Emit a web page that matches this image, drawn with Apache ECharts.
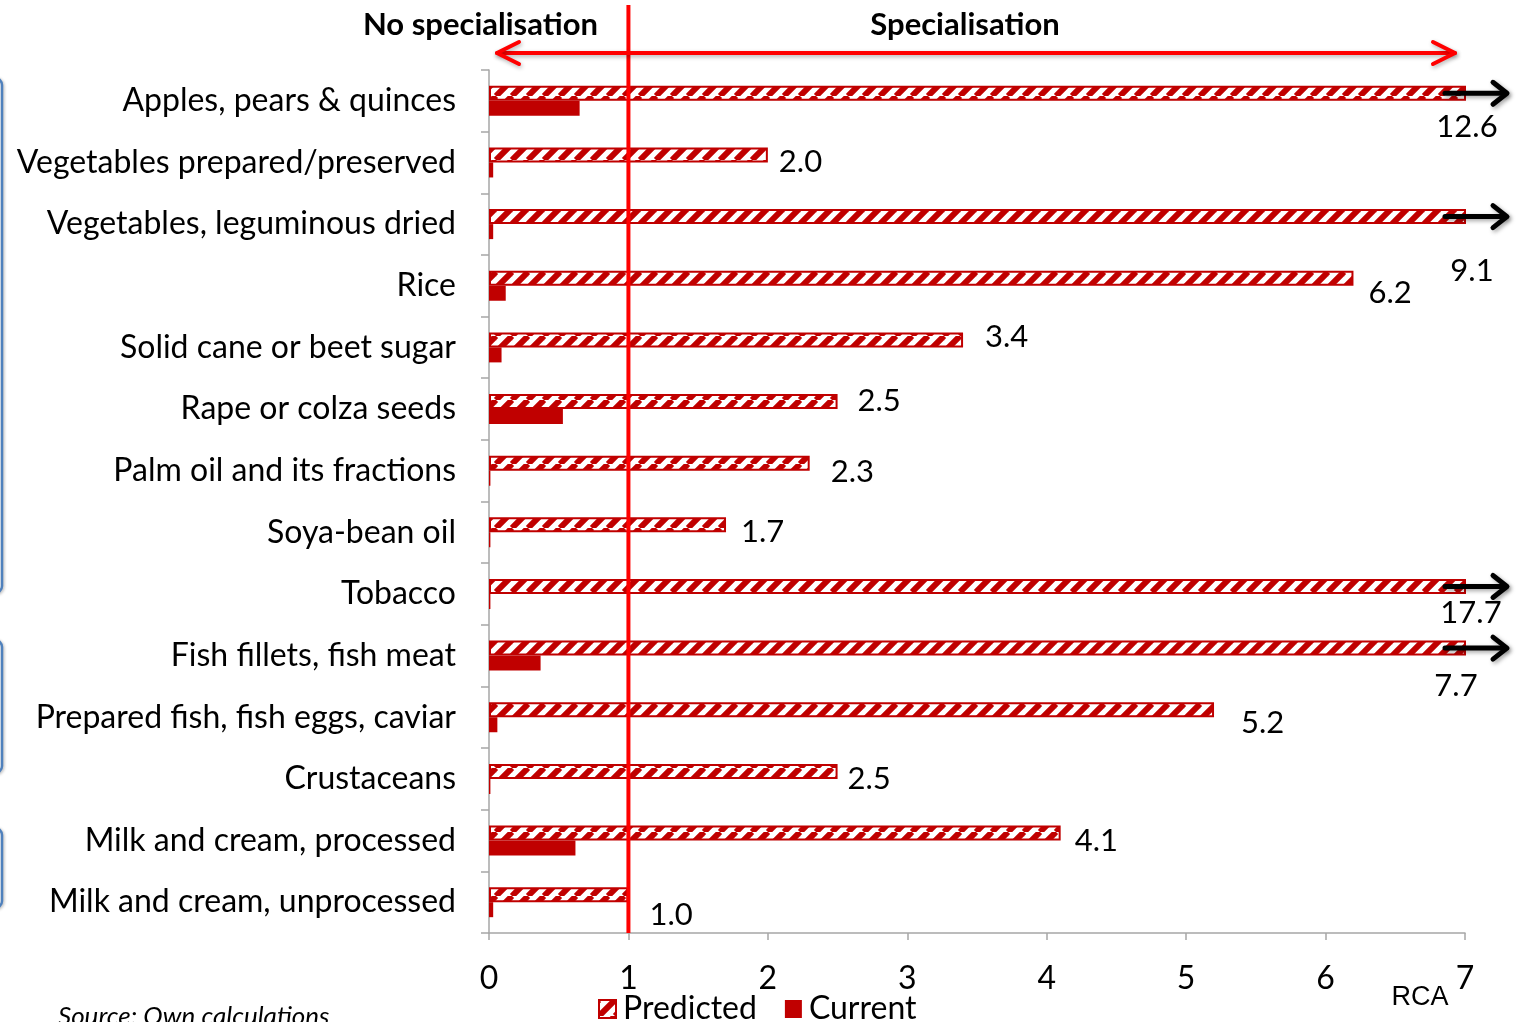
<!DOCTYPE html>
<html>
<head>
<meta charset="utf-8">
<title>RCA by product</title>
<script src="https://cdn.jsdelivr.net/npm/echarts@6/dist/echarts.min.js"></script>
<style>
  html, body { margin: 0; padding: 0; background: #fff; }
  #chart { width: 1517px; height: 1022px; }
</style>
</head>
<body>
<div id="chart"></div>
<script>
// Product groups, top to bottom
const categories = [
  'Apples, pears & quinces',
  'Vegetables prepared/preserved',
  'Vegetables, leguminous dried',
  'Rice',
  'Solid cane or beet sugar',
  'Rape or colza seeds',
  'Palm oil and its fractions',
  'Soya-bean oil',
  'Tobacco',
  'Fish fillets, fish meat',
  'Prepared fish, fish eggs, caviar',
  'Crustaceans',
  'Milk and cream, processed',
  'Milk and cream, unprocessed'
];

// Revealed comparative advantage
const predicted = [12.6, 2.0, 9.1, 6.2, 3.4, 2.5, 2.3, 1.7, 17.7, 7.7, 5.2, 2.5, 4.1, 1.0];
const current   = [0.65, 0.03, 0.03, 0.12, 0.09, 0.53, 0.01, 0.01, 0.01, 0.37, 0.06, 0.01, 0.62, 0.03];

// Value axis
const xTicks = [0, 1, 2, 3, 4, 5, 6, 7];
const X_MIN = xTicks[0];
const X_MAX = xTicks[xTicks.length - 1];
const THRESHOLD = 1;

// Label nudges in pixels [dx, dy] relative to the bar end / bar centre
const labelShift = [
  [1, 34], [11, 7], [6, 54], [15, 15], [22, -3], [20, -1], [21, 9],
  [15, 7], [5, 27], [-10, 38], [27, 13], [10, 8], [14, 8], [21, 20]
];

const RED = '#c00000';
const BAR_W = 15;
const FONT = 'Lato, "Open Sans", sans-serif';
const SIZE = 32;

function stripeTile() {
  const c = document.createElement('canvas');
  c.width = 16; c.height = 16;
  const g = c.getContext('2d');
  g.fillStyle = '#ffffff';
  g.fillRect(0, 0, 16, 16);
  g.strokeStyle = RED;
  g.lineWidth = 6;
  for (const o of [-16, 0, 16]) {
    g.beginPath();
    g.moveTo(o, 16);
    g.lineTo(o + 16, 0);
    g.stroke();
  }
  return c;
}
const hatch = { image: stripeTile(), repeat: 'repeat' };

const predictedData = predicted.map((v, i) => {
  const capped = v > X_MAX;
  return {
    value: v,
    label: {
      align: capped ? 'center' : 'left',
      offset: labelShift[i]
    }
  };
});

const chart = echarts.init(document.getElementById('chart'), null, { renderer: 'canvas' });

chart.setOption({
  animation: false,
  backgroundColor: '#ffffff',
  textStyle: { fontFamily: FONT },
  grid: { left: 489, right: 52, top: 70, height: 863, containLabel: false },
  legend: {
    data: ['Predicted', 'Current'],
    left: 593,
    top: 988,
    itemWidth: 17,
    itemHeight: 18,
    itemGap: 28,
    icon: 'rect',
    textStyle: { fontSize: SIZE, color: '#000', fontFamily: FONT, padding: [0, 0, 0, 2] }
  },
  xAxis: {
    type: 'value',
    min: X_MIN,
    max: X_MAX,
    interval: 1,
    splitLine: { show: false },
    axisLine: { show: true, lineStyle: { color: '#a6a6a6', width: 1.5 } },
    axisTick: { show: true, length: 7, lineStyle: { color: '#a6a6a6', width: 1.5 } },
    axisLabel: { fontSize: SIZE, color: '#000', margin: 30, fontFamily: FONT }
  },
  yAxis: {
    type: 'category',
    inverse: true,
    data: categories,
    axisLine: { show: true, lineStyle: { color: '#a6a6a6', width: 1.5 } },
    axisTick: { show: true, length: 8, lineStyle: { color: '#a6a6a6', width: 1.5 } },
    axisLabel: { fontSize: SIZE, color: '#000', margin: 33, fontFamily: FONT }
  },
  graphic: [
    { type: 'text', x: 598, y: 25,
      style: { text: 'No specialisation', font: 'bold 31px ' + FONT, fill: '#000', align: 'right', verticalAlign: 'middle' } },
    { type: 'text', x: 965, y: 25,
      style: { text: 'Specialisation', font: 'bold 31px ' + FONT, fill: '#000', align: 'center', verticalAlign: 'middle' } },
    { type: 'text', x: 1420, y: 998,
      style: { text: 'RCA', font: '27px "Liberation Sans", Arial, sans-serif', fill: '#000', align: 'center', verticalAlign: 'middle' } },
    { type: 'text', x: 58, y: 1017,
      style: { text: 'Source: Own calculations', font: 'italic 26px ' + FONT, fill: '#000', align: 'left', verticalAlign: 'middle' } },
    // group brackets at the left edge
    { type: 'rect', shape: { x: -12, y: 78, width: 14, height: 515, r: 7 },
      style: { fill: 'none', stroke: '#4f81bd', lineWidth: 2.5, shadowBlur: 3, shadowColor: 'rgba(0,0,0,0.3)', shadowOffsetX: 1, shadowOffsetY: 1 } },
    { type: 'rect', shape: { x: -12, y: 640, width: 14, height: 133, r: 7 },
      style: { fill: 'none', stroke: '#4f81bd', lineWidth: 2.5, shadowBlur: 3, shadowColor: 'rgba(0,0,0,0.3)', shadowOffsetX: 1, shadowOffsetY: 1 } },
    { type: 'rect', shape: { x: -12, y: 828, width: 14, height: 80, r: 7 },
      style: { fill: 'none', stroke: '#4f81bd', lineWidth: 2.5, shadowBlur: 3, shadowColor: 'rgba(0,0,0,0.3)', shadowOffsetX: 1, shadowOffsetY: 1 } }
  ],
  series: [
    {
      name: 'Predicted',
      type: 'bar',
      data: predictedData,
      barWidth: BAR_W,
      barGap: '0%',
      clip: true,
      itemStyle: { color: hatch, borderColor: RED, borderWidth: 2 },
      label: {
        show: true,
        position: 'right',
        distance: 0,
        fontSize: 31,
        color: '#000',
        fontFamily: FONT,
        formatter: p => p.value.toFixed(1)
      },
      z: 2
    },
    {
      name: 'Current',
      type: 'bar',
      data: current,
      barWidth: BAR_W,
      barGap: '0%',
      itemStyle: { color: RED },
      z: 2
    },
    {
      // arrows for values beyond the axis maximum
      name: 'overflow',
      type: 'custom',
      clip: false,
      z: 5,
      data: predicted.map((v, i) => [v, i]),
      encode: { x: 0, y: 1 },
      renderItem: (params, api) => {
        const v = api.value(0);
        const i = api.value(1);
        if (v <= X_MAX) return null;
        const p = api.coord([X_MAX, i]);
        const y = p[1] - BAR_W / 2;
        const x0 = p[0] - 20, x1 = p[0] + 42;
        const st = { stroke: '#000', lineWidth: 5, fill: 'none', lineCap: 'round', lineJoin: 'round',
                     shadowBlur: 4, shadowColor: 'rgba(0,0,0,0.35)', shadowOffsetX: 2, shadowOffsetY: 2 };
        return {
          type: 'group',
          children: [
            { type: 'line', shape: { x1: x0, y1: y, x2: x1 - 2, y2: y }, style: st },
            { type: 'polyline', shape: { points: [[x1 - 14, y - 11], [x1, y], [x1 - 14, y + 11]] }, style: st }
          ]
        };
      }
    },
    {
      // specialisation threshold and its double arrow
      name: 'threshold',
      type: 'custom',
      clip: false,
      z: 6,
      data: [[THRESHOLD, 0]],
      encode: { x: 0, y: 1 },
      renderItem: (params, api) => {
        const cs = params.coordSys;
        const xT = api.coord([api.value(0), 0])[0];
        const xL = api.coord([X_MIN, 0])[0] + 8;
        const xR = api.coord([X_MAX, 0])[0] - 10;
        const yA = 53;
        const st = { stroke: '#ff0000', lineWidth: 4, fill: 'none', lineCap: 'round', lineJoin: 'round' };
        const shadow = { shadowBlur: 4, shadowColor: 'rgba(0,0,0,0.3)', shadowOffsetX: 1, shadowOffsetY: 2 };
        return {
          type: 'group',
          children: [
            { type: 'line', shape: { x1: xT, y1: 5, x2: xT, y2: cs.y + cs.height },
              style: { stroke: '#ff0000', lineWidth: 4 } },
            { type: 'line', shape: { x1: xL, y1: yA, x2: xR, y2: yA }, style: Object.assign({}, st, shadow) },
            { type: 'polyline', shape: { points: [[xL + 22, yA - 11], [xL, yA], [xL + 22, yA + 11]] },
              style: Object.assign({}, st, shadow) },
            { type: 'polyline', shape: { points: [[xR - 22, yA - 11], [xR, yA], [xR - 22, yA + 11]] },
              style: Object.assign({}, st, shadow) }
          ]
        };
      }
    }
  ]
});
</script>
</body>
</html>
